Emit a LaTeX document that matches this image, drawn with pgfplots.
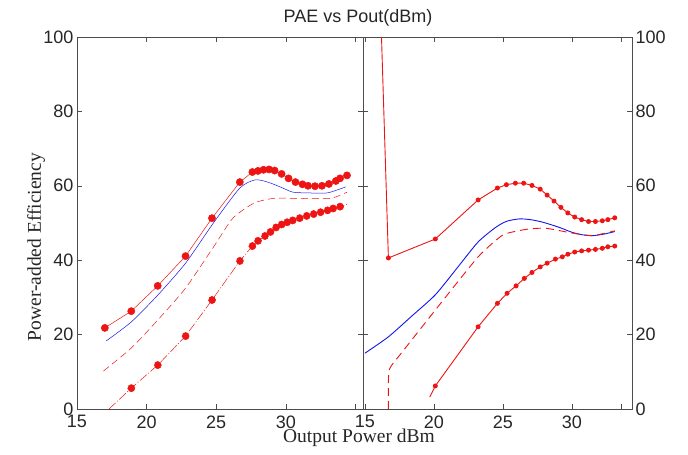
\documentclass[border=0pt]{standalone}
\usepackage{fontspec}
\setmainfont{Liberation Serif}
\newfontfamily\arial{Liberation Sans}
\usepackage{pgfplots}
\pgfplotsset{compat=1.18}

\definecolor{mred}{RGB}{238,20,20}
\definecolor{mblue}{RGB}{20,20,235}

\pgfplotsset{
  panel/.style={
    scale only axis, height=372pt, ymin=0, ymax=100,
    ytick={0,20,...,100}, tick align=inside, major tick length=5pt,
    axis line style={black!70}, every tick/.style={black!70},
    /pgf/number format/assume math mode=true,
    tick label style={font=\arial\fontsize{18}{20}\selectfont, text=black!85},
    xticklabel style={yshift=-3pt},
    clip=false,
  },
}

\begin{document}
\begin{tikzpicture}
\path[use as bounding box] (0,0) rectangle (688pt,455pt);

% left panel
\begin{axis}[panel, at={(77pt,46pt)}, anchor=south west, width=286pt,
  xmin=15, xmax=35.55, xtick={15,20,25,30,35}, xticklabels={15,20,25,30,},
  yticklabel pos=left]
\addplot[mred, line width=0.5pt, mark=*, mark size=3.6pt] coordinates {
 (17.0,21.8) (18.9,26.3) (20.8,33.1) (22.8,41.1) (24.7,51.3) (26.7,61.0)
 (27.6,63.7) (28.0,64.0) (28.4,64.3) (28.8,64.4) (29.2,64.1) (29.7,63.2)
 (30.2,62.0) (30.7,61.0) (31.2,60.4) (31.6,60.0) (32.1,59.9) (32.6,60.0)
 (33.1,60.5) (33.6,61.3) (33.9,62.0) (34.4,62.8)};
\addplot[mblue, line width=0.5pt, smooth, tension=0.4] coordinates {
 (17.1,18.3) (18.9,23.4) (20.8,30.6) (22.8,39.2) (24.8,50.0) (26.7,59.4)
 (27.8,61.6) (28.7,61.0) (29.6,59.7) (30.5,58.3) (31.5,58.1) (33.0,58.1) (34.3,59.7)};
\addplot[mred, line width=0.5pt, dash pattern=on 7pt off 4pt, smooth, tension=0.4] coordinates {
 (16.9,10.2) (18.9,16.4) (20.8,23.9) (22.8,32.5) (24.8,43.5) (26.2,51.3)
 (27.7,55.3) (29.1,56.6) (31.0,56.6) (33.2,56.6) (34.4,58.3)};
\addplot[mred, line width=0.5pt, mark=*, mark size=3.6pt, mark indices={2,...,21},
  dash pattern=on 9pt off 2pt on 1pt off 2pt] coordinates {
 (17.3,0) (18.9,5.6) (20.8,11.8) (22.8,19.6) (24.7,29.3) (26.7,39.8)
 (27.6,43.8) (28.0,45.2) (28.5,46.5) (28.9,47.6) (29.3,48.8) (29.7,49.6)
 (30.1,50.2) (30.5,50.7) (31.0,51.3) (31.5,51.9) (32.0,52.4) (32.5,52.9)
 (33.0,53.4) (33.4,53.9) (33.9,54.4) (34.4,55.0)};
\end{axis}

% right panel
\begin{axis}[panel, at={(363pt,46pt)}, anchor=south west, width=269pt,
  xmin=14.86, xmax=34.35, xtick={15,20,25,30,33.6}, xticklabels={15,20,25,30,},
  yticklabel pos=right]
\addplot[mred, line width=0.9pt, mark=*, mark size=2pt, mark indices={2,...,21}] coordinates {
 (16.2,100) (16.7,40.6) (20.1,45.7) (23.2,56.2) (24.6,59.4) (25.25,60.3)
 (25.9,60.7) (26.5,60.7) (27.1,60.1) (27.7,59.1) (28.2,57.5) (28.7,55.9)
 (29.2,54.2) (29.7,52.7) (30.2,51.6) (30.7,50.9) (31.2,50.4) (31.7,50.4)
 (32.2,50.6) (32.6,50.9) (33.1,51.4)};
\addplot[mblue, line width=0.9pt, smooth, tension=0.4] coordinates {
 (15.0,15.0) (16.7,19.4) (18.4,25.0) (20.1,30.7) (21.7,38.0) (23.2,44.9)
 (24.5,48.9) (25.3,50.5) (26.2,51.1) (27.0,50.9) (27.9,50.2) (29.1,48.8)
 (30.0,47.5) (30.8,46.8) (31.5,46.6) (32.3,47.0) (33.1,47.7)};
\addplot[mred, line width=0.9pt, dash pattern=on 8pt off 5pt, smooth, tension=0.3] coordinates {
 (16.7,0) (16.75,10.4) (17.7,15.3) (20.1,26.6) (23.2,40.9) (25.0,46.8)
 (26.7,48.3) (28.1,48.6) (30.0,47.3) (31.5,46.6) (33.1,47.9)};
\addplot[mred, line width=0.9pt, mark=*, mark size=2pt, mark indices={2,...,20}] coordinates {
 (19.7,3.2) (20.1,6.2) (23.2,22.1) (24.6,28.4) (25.3,31.1) (25.95,33.1)
 (26.55,35.1) (27.1,36.7) (27.7,38.2) (28.2,39.2) (28.8,40.3) (29.3,40.9)
 (29.7,41.6) (30.2,42.2) (30.7,42.5) (31.2,42.7) (31.7,42.9) (32.2,43.2)
 (32.6,43.6) (33.1,43.8)};
\end{axis}

\node[font=\arial\fontsize{18}{20}\selectfont, text=black!85] at (358pt,437pt) {PAE vs Pout(dBm)};
\node[font=\fontsize{19.5}{22}\selectfont, text=black!85] at (359pt,17pt) {Output Power dBm};
\node[font=\fontsize{19.5}{22}\selectfont, text=black!85, rotate=90] at (36pt,208pt) {Power-added Efficiency};
\end{tikzpicture}
\end{document}
